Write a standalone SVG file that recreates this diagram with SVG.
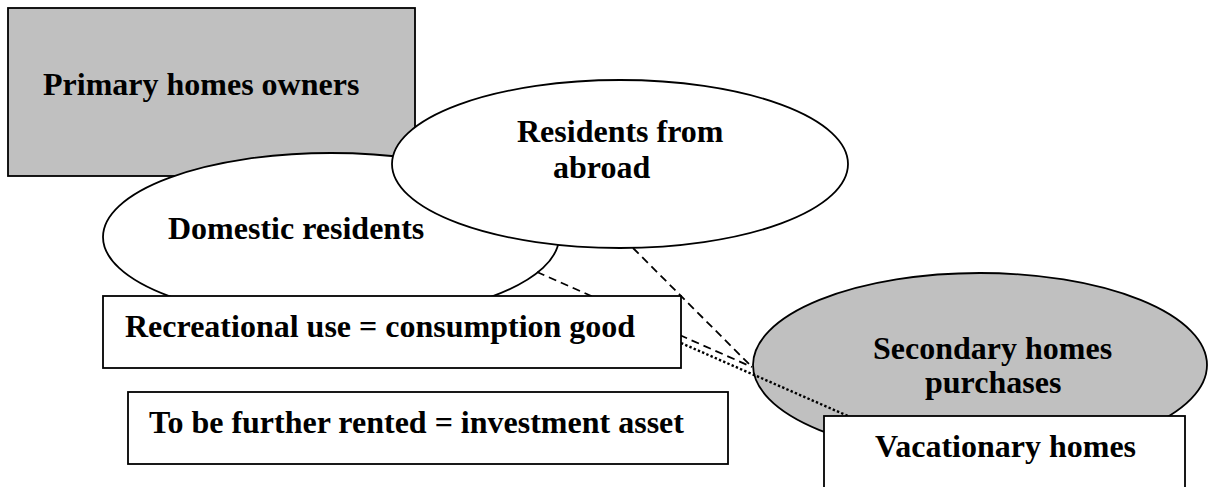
<svg xmlns="http://www.w3.org/2000/svg" width="1208" height="487" viewBox="0 0 1208 487">
  <style>
    .shape { stroke: #000; stroke-width: 1.8; }
    .grey { fill: #c0c0c0; }
    .white { fill: #fff; }
    .label { font-family: "Liberation Serif", "Times New Roman", serif; font-weight: bold; font-size: 32px; fill: #000; }
    .dashed { stroke: #000; stroke-width: 1.8; stroke-dasharray: 8 5; fill: none; }
    .dotted { stroke: #000; stroke-width: 2.4; stroke-dasharray: 2.4 2.2; fill: none; }
  </style>
  <rect width="1208" height="487" fill="#fff"/>

  <g id="primary-owners">
    <rect class="shape grey" x="8" y="8" width="407" height="168"/>
    <text class="label" x="43" y="95">Primary homes owners</text>
  </g>

  <g id="domestic-residents">
    <ellipse class="shape white" cx="331" cy="237" rx="228" ry="84"/>
    <text class="label" x="168" y="239">Domestic residents</text>
  </g>

  <g id="residents-abroad">
    <ellipse class="shape white" cx="620" cy="164" rx="228" ry="84"/>
    <text class="label" x="517" y="142">Residents from</text>
    <text class="label" x="553" y="178">abroad</text>
  </g>

  <g id="secondary-purchases">
    <ellipse class="shape grey" cx="980" cy="365" rx="227" ry="92"/>
    <text class="label" x="873" y="359">Secondary homes</text>
    <text class="label" x="925" y="393">purchases</text>
  </g>

  <g id="connectors">
    <line class="dashed" x1="537" y1="272" x2="752" y2="367"/>
    <line class="dashed" x1="633" y1="248" x2="752" y2="367"/>
    <line class="dotted" x1="681" y1="343" x2="848" y2="416"/>
  </g>

  <g id="recreational-use">
    <rect class="shape white" x="103" y="296" width="578" height="72"/>
    <text class="label" x="125" y="337">Recreational use = consumption good</text>
  </g>

  <g id="rented-investment">
    <rect class="shape white" x="128" y="392" width="600" height="72"/>
    <text class="label" x="149" y="433">To be further rented = investment asset</text>
  </g>

  <g id="vacationary-homes">
    <rect class="shape white" x="824" y="416" width="361" height="80"/>
    <text class="label" x="875" y="457">Vacationary homes</text>
  </g>
</svg>
